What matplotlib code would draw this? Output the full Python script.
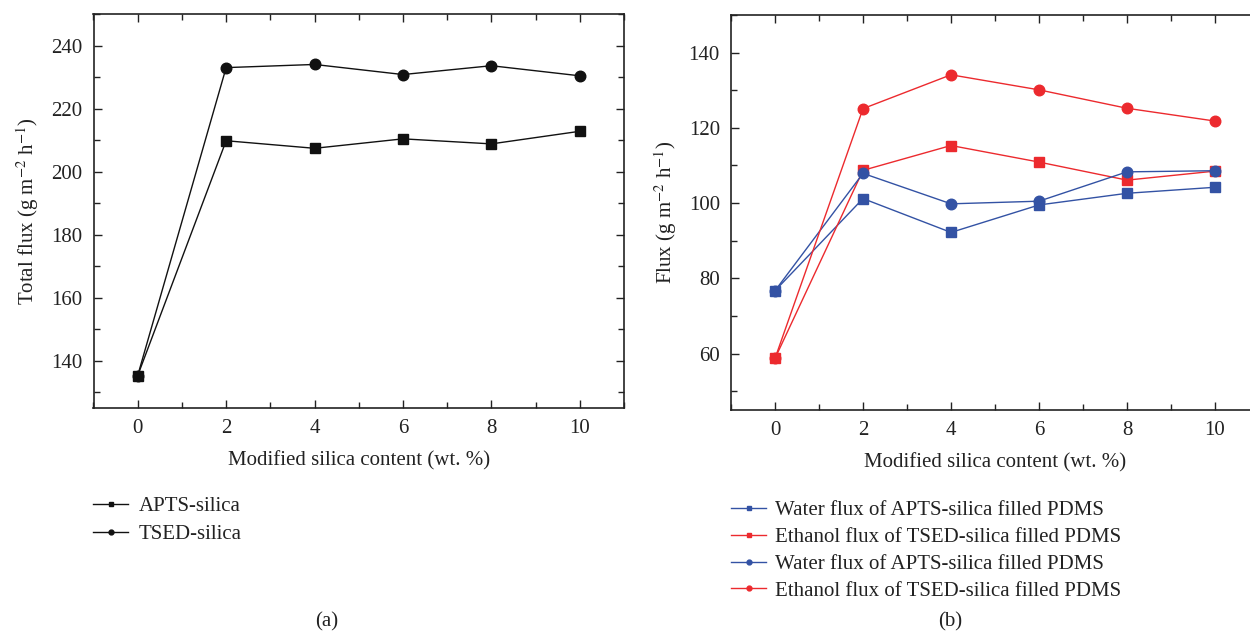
import matplotlib
matplotlib.use('Agg')
import matplotlib.pyplot as plt
from matplotlib.ticker import MultipleLocator
from matplotlib.lines import Line2D

plt.rcParams['font.family'] = ['Liberation Serif', 'DejaVu Serif']
plt.rcParams['mathtext.fontset'] = 'stix'

# silica loading (wt. %)
content = [0, 2, 4, 6, 8, 10]

# (a) total flux
apts_total = [135.3, 209.8, 207.4, 210.4, 208.8, 212.8]
tsed_total = [135.3, 233.0, 234.0, 230.8, 233.6, 230.4]

# (b) component flux
water_apts_sq = [76.7, 101.2, 92.2, 99.5, 102.6, 104.2]
ethanol_tsed_sq = [58.7, 108.7, 115.3, 110.9, 106.1, 108.5]
water_apts_ci = [76.7, 107.9, 99.8, 100.5, 108.3, 108.6]
ethanol_tsed_ci = [58.7, 125.1, 134.1, 130.1, 125.2, 121.8]

labels_a = ['APTS-silica', 'TSED-silica']
labels_b = ['Water flux of APTS-silica filled PDMS',
            'Ethanol flux of TSED-silica filled PDMS',
            'Water flux of APTS-silica filled PDMS',
            'Ethanol flux of TSED-silica filled PDMS']

blue = '#3352A4'
red = '#EC2A2E'
fs = 15

fig = plt.figure(figsize=(12.5, 6.32), dpi=100)
ax1 = fig.add_axes([0.0748, 0.3544, 0.4244, 0.6234])
ax2 = fig.add_axes([0.5848, 0.3513, 0.4224, 0.6250])


def style(ax):
    ax.xaxis.set_major_locator(MultipleLocator(2))
    ax.xaxis.set_minor_locator(MultipleLocator(1))
    ax.yaxis.set_major_locator(MultipleLocator(20))
    ax.yaxis.set_minor_locator(MultipleLocator(10))
    ax.tick_params(which='both', direction='in', top=True, right=True,
                   labelsize=fs, width=1.0, pad=8, colors='#222222')
    ax.tick_params(which='major', length=6)
    ax.tick_params(which='minor', length=4)
    for s in ax.spines.values():
        s.set_linewidth(1.2)
        s.set_color('#222222')
    ax.set_xlim(-1, 11)
    ax.set_xlabel('Modified silica content (wt. %)', fontsize=fs, labelpad=9,
                  color='#222222')


lw = 1.0
ms = 6.8
ax1.plot(content, apts_total, color='#111111', lw=lw, marker='s', ms=ms)
ax1.plot(content, tsed_total, color='#111111', lw=lw, marker='o', ms=ms + 0.8)
ax1.set_ylim(125, 250)
style(ax1)
ax1.set_ylabel('Total flux (g m$^{-2}$ h$^{-1}$)', fontsize=fs, labelpad=7,
               color='#222222')

ax2.plot(content, water_apts_sq, color=blue, lw=lw, marker='s', ms=ms)
ax2.plot(content, ethanol_tsed_sq, color=red, lw=lw, marker='s', ms=ms)
ax2.plot(content, water_apts_ci, color=blue, lw=lw, marker='o', ms=ms + 0.8)
ax2.plot(content, ethanol_tsed_ci, color=red, lw=lw, marker='o', ms=ms + 0.8)
ax2.set_ylim(45, 150)
style(ax2)
ax2.set_ylabel('Flux (g m$^{-2}$ h$^{-1}$)', fontsize=fs, labelpad=7,
               color='#222222')

h_a = [Line2D([], [], color='#111111', lw=1.0, marker='s', ms=3.5),
       Line2D([], [], color='#111111', lw=1.0, marker='o', ms=3.5)]
fig.legend(h_a, labels_a, loc='upper left', bbox_to_anchor=(0.0744, 0.214),
           frameon=False, fontsize=fs, handlelength=1.7, handletextpad=0.5,
           labelspacing=0.4, borderpad=0, borderaxespad=0, labelcolor='#222222')

h_b = [Line2D([], [], color=blue, lw=1.0, marker='s', ms=3.5),
       Line2D([], [], color=red, lw=1.0, marker='s', ms=3.5),
       Line2D([], [], color=blue, lw=1.0, marker='o', ms=3.5),
       Line2D([], [], color=red, lw=1.0, marker='o', ms=3.5)]
fig.legend(h_b, labels_b, loc='upper left', bbox_to_anchor=(0.5848, 0.208),
           frameon=False, fontsize=fs, handlelength=1.7, handletextpad=0.4,
           labelspacing=0.35, borderpad=0, borderaxespad=0, labelcolor='#222222')

fig.text(0.2616, 0.016, '(a)', ha='center', va='center', fontsize=fs,
         color='#222222')
fig.text(0.760, 0.016, '(b)', ha='center', va='center', fontsize=fs,
         color='#222222')

fig.savefig('out.png', dpi=100)
